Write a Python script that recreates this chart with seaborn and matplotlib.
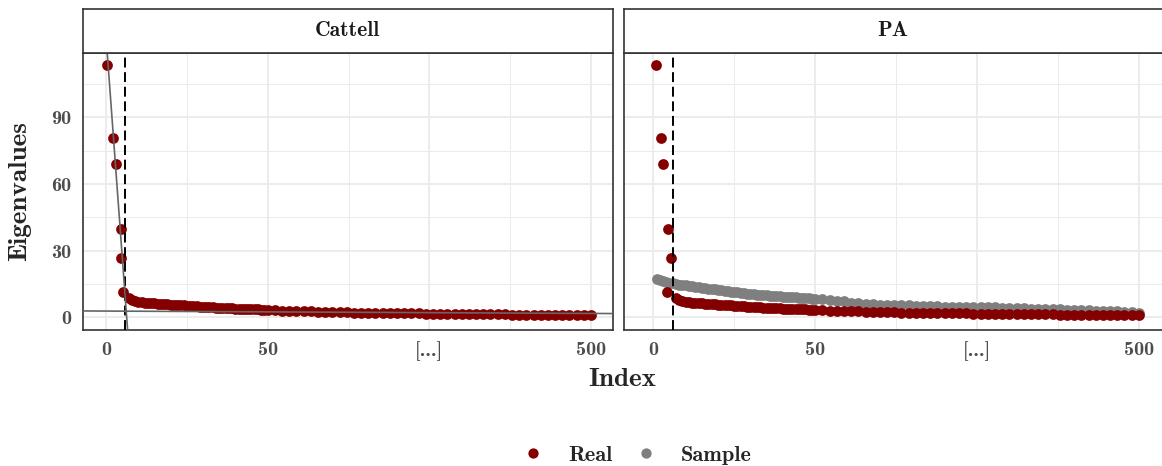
import numpy as np
import pandas as pd
import matplotlib
matplotlib.use("Agg")
import matplotlib.pyplot as plt
from matplotlib.lines import Line2D
import seaborn as sns

# first six eigenvalues (jittered x)
real_head = [113.5, 80.6, 68.8, 39.7, 26.7, 11.4]
cattell_head_x = [0.4, 2.1, 3.1, 4.5, 4.6, 5.3]
pa_head_x = [0.8, 2.4, 2.9, 4.4, 5.6, 4.2]

# real eigenvalues, index 7..50
real_mid = [8.6, 7.9, 7.4, 7.0, 6.8, 6.6, 6.5, 6.3, 6.2, 6.1, 6.0, 5.9, 5.8, 5.7,
            5.6, 5.5, 5.4, 5.3, 5.2, 5.1, 5.0, 4.9, 4.8, 4.7, 4.6, 4.5, 4.4, 4.3,
            4.3, 4.2, 4.1, 4.1, 4.0, 3.9, 3.9, 3.8, 3.7, 3.7, 3.6, 3.5, 3.5, 3.4,
            3.4, 3.3]
# real eigenvalues, index 60..500 step 10
real_tail = [3.1, 3.0, 2.9, 2.8, 2.7, 2.6, 2.5, 2.4, 2.3, 2.3, 2.2, 2.1, 2.1, 2.0,
             1.9, 1.9, 1.8, 1.8, 1.7, 1.7, 1.7, 1.6, 1.6, 1.6, 1.5, 1.5, 1.5, 1.4,
             1.4, 1.4, 1.3, 1.3, 1.3, 1.2, 1.2, 1.2, 1.1, 1.1, 1.1, 1.0, 1.0, 1.0,
             0.9, 0.9, 0.9]
# sample (parallel analysis) eigenvalues, index 1..50
sample_mid = [17.0, 16.6, 16.2, 15.9, 15.6, 15.3, 15.0, 14.7, 14.5, 14.3, 14.1, 13.9,
              13.7, 13.5, 13.3, 13.1, 12.9, 12.7, 12.5, 12.3, 12.1, 11.9, 11.7, 11.5,
              11.3, 11.2, 11.0, 10.8, 10.6, 10.5, 10.3, 10.1, 10.0, 9.9, 9.8, 9.7,
              9.6, 9.5, 9.4, 9.3, 9.2, 9.1, 9.0, 8.9, 8.8, 8.7, 8.6, 8.5, 8.4, 8.3]
# sample eigenvalues, index 60..500 step 10
sample_tail = [8.0, 7.8, 7.5, 7.2, 6.6, 6.3, 6.1, 5.9, 5.7, 5.6, 5.5, 5.4, 5.3, 5.2,
               5.1, 5.0, 4.9, 4.8, 4.8, 4.7, 4.6, 4.6, 4.5, 4.5, 4.4, 4.3, 4.2, 4.1,
               4.0, 3.9, 3.8, 3.7, 3.6, 3.5, 3.4, 3.3, 3.2, 3.1, 3.0, 2.9, 2.8, 2.6,
               2.4, 2.3, 2.1]

n_factors = 6
# Cattell scree lines (two points each, in index units)
steep_line = [(0.4, 118.6), (6.7, -5.9)]
flat_line = [(0, 2.79), (500, 1.72)]

panels = ["Cattell", "PA"]
series = ["Real", "Sample"]
colors = {"Real": "#840000", "Sample": "#7F7F7F"}
y_ticks = [0, 30, 60, 90]
x_tick_labels = ["0", "50", "[...]", "500"]

idx_mid = list(range(7, 51))
idx_tail = list(range(60, 501, 10))
rows = []
for panel, hx in zip(panels, [cattell_head_x, pa_head_x]):
    for x, v in zip(hx, real_head):
        rows.append((panel, "Real", x, v))
    for x, v in zip(idx_mid + idx_tail, real_mid + real_tail):
        rows.append((panel, "Real", x, v))
for x, v in zip(list(range(1, 51)) + idx_tail, sample_mid + sample_tail):
    rows.append(("PA", "Sample", x, v))
df = pd.DataFrame(rows, columns=["panel", "series", "index", "value"])


# broken axis: first 50 linear, 50..500 squeezed
def fwd(x):
    x = np.asarray(x, dtype=float)
    return np.where(x <= 50, x, 50 + (x - 50) / 4.5)


def inv(x):
    x = np.asarray(x, dtype=float)
    return np.where(x <= 50, x, 50 + (x - 50) * 4.5)


sns.set_theme(style="white")
plt.rcParams["font.family"] = ["cmb10", "DejaVu Serif"]
plt.rcParams["axes.unicode_minus"] = False

W, H = 1162, 466
fig = plt.figure(figsize=(W / 100, H / 100), dpi=100)
ax_px = {"Cattell": (82.7, 612.7, -7.2, 156.7), "PA": (624.3, 1168, -8.96, 159.0)}
top, bot = 52.7, 329.5
strip_top = 9.5
border = "#333333"

for panel in panels:
    x0, x1, lo, hi = ax_px[panel]
    ax = fig.add_axes([x0 / W, (H - bot) / H, (x1 - x0) / W, (bot - top) / H])
    ax.set_xscale("function", functions=(fwd, inv))
    ax.set_xlim(float(inv(lo)), float(inv(hi)))
    ax.set_ylim(-5.5, 119)
    ax.set_yticks(y_ticks)
    ax.set_yticks([15, 45, 75, 105], minor=True)
    ax.set_xticks([0, 50, float(inv(100)), 500])
    ax.set_xticks([25, float(inv(75)), float(inv(125))], minor=True)
    ax.set_xticklabels(x_tick_labels)
    if panel == "Cattell":
        ax.set_yticklabels([str(t) for t in y_ticks])
    else:
        ax.set_yticklabels([])
        ax.tick_params(axis="y", which="major", length=0)
    ax.grid(which="major", color="#EBEBEB", lw=1.3)
    ax.grid(which="minor", color="#EBEBEB", lw=0.7)
    ax.set_axisbelow(True)
    ax.tick_params(axis="both", which="major", length=4.5, width=1.1, color=border,
                   labelsize=14.5, labelcolor="#4D4D4D", pad=4)
    ax.tick_params(axis="both", which="minor", length=0)
    for s in ax.spines.values():
        s.set_color(border)
        s.set_linewidth(1.2)

    sub = df[df["panel"] == panel]
    for ser in ["Sample", "Real"]:
        d = sub[sub["series"] == ser]
        if len(d):
            sns.scatterplot(data=d, x="index", y="value", color=colors[ser], s=60,
                            linewidth=0, legend=False, ax=ax, zorder=3)
    ax.axvline(n_factors, color="black", lw=1.4, ls=(0, (5.1, 2.4)), zorder=4)
    if panel == "Cattell":
        ax.axline(*steep_line, color="#666666", lw=1.2, zorder=5)
        ax.axline(*flat_line, color="#666666", lw=1.2, zorder=5)
    ax.set_xlabel("")
    ax.set_ylabel("")

    # strip
    sax = fig.add_axes([x0 / W, (H - top) / H, (x1 - x0) / W, (top - strip_top) / H])
    sax.set_xticks([])
    sax.set_yticks([])
    sax.set_facecolor("white")
    for s in sax.spines.values():
        s.set_color(border)
        s.set_linewidth(1.2)
    cx = ((x0 + x1) / 2 if panel == "Cattell" else (x0 + 1162) / 2)
    fig.text(cx / W, (H - 31) / H, panel, ha="center", va="center", fontsize=15.5,
             color="#1A1A1A")

fig.text(622 / W, (H - 380) / H, "Index", ha="center", va="center", fontsize=19.5)
fig.text(20 / W, (H - 191) / H, "Eigenvalues", ha="center", va="center",
         rotation=90, fontsize=19.5)

handles = [Line2D([], [], ls="", marker="o", markersize=7.4, markeredgewidth=0,
                  color=colors[s]) for s in series]
fig.legend(handles, series, loc="center", bbox_to_anchor=(637 / W, (H - 455) / H),
           ncol=2, frameon=False, fontsize=16, handlelength=1.0, handletextpad=1.05,
           columnspacing=1.05)

fig.savefig("out.png", dpi=100)
